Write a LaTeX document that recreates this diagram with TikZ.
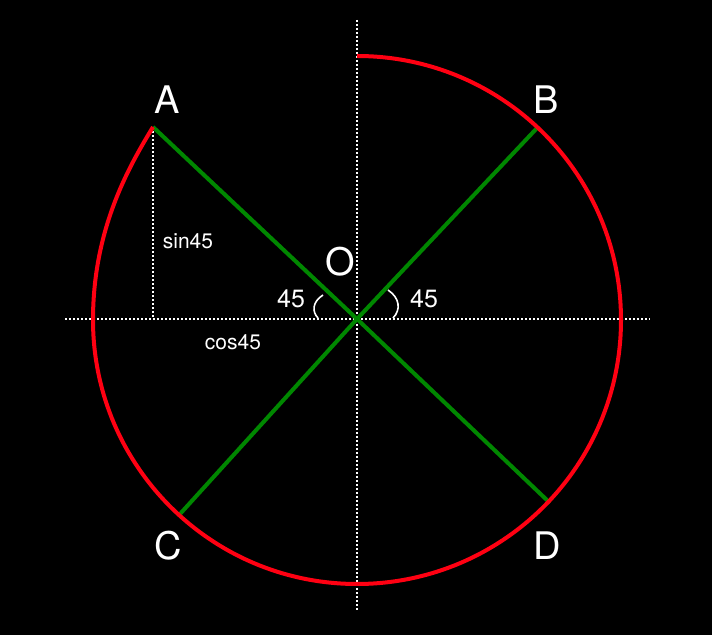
\documentclass[tikz,border=0pt]{standalone}
\usepackage{fontspec}
\setmainfont{TeX Gyre Heros}
\definecolor{rimred}{RGB}{255,0,18}
\definecolor{raygreen}{RGB}{0,135,0}
\begin{document}
\begin{tikzpicture}[
  x=0.5pt,y=-0.5pt,
  axis/.style={white,line width=1pt,dash pattern=on 1pt off 1pt},
  ray/.style={line width=2pt,color=raygreen},
  rim/.style={line width=2pt,color=rimred},
  tick/.style={white,line width=0.8pt},
  pointlabel/.style={white,font=\fontsize{19}{19}\selectfont},
  anglelabel/.style={white,font=\fontsize{12.5}{12.5}\selectfont},
  trig/.style={white,font=\fontsize{10.5}{10.5}\selectfont}]
  \fill[black] (0,0) rectangle (712,635);
  \coordinate (O) at (357,319);
  \coordinate (A) at (153,127);
  \coordinate (B) at (538,127);
  \coordinate (C) at (180,514);
  \coordinate (D) at (550,503);
  \coordinate (Top) at (357,56);
  \draw[axis] (65,319) -- (650,319);
  \draw[axis] (357,20) -- (357,612);
  \draw[axis] (A) -- (A |- O);
  \draw[ray] (A) -- (O) -- (D);
  \draw[ray] (B) -- (O) -- (C);
  \draw[rim] (Top) arc[start angle=-90,end angle=180,radius=264]
    .. controls (93,230) and (128,168) .. (A);
  \draw[tick] (323,295) .. controls (312,302) and (312,312) .. (318,318);
  \draw[tick] (388,290) .. controls (400,298) and (401,310) .. (393,318);
  \node[pointlabel] (labA) at (167,100) {A};
  \node[pointlabel] (labB) at (546,100) {B};
  \node[pointlabel] (labC) at (168,546) {C};
  \node[pointlabel] (labD) at (547,546) {D};
  \node[pointlabel] (labO) at (340,262) {O};
  \node[anglelabel] (angL) at (291,299) {45};
  \node[anglelabel] (angR) at (424,299) {45};
  \node[trig] (sin) at (188,241) {sin45};
  \node[trig] (cos) at (233,342) {cos45};
\end{tikzpicture}
\end{document}
